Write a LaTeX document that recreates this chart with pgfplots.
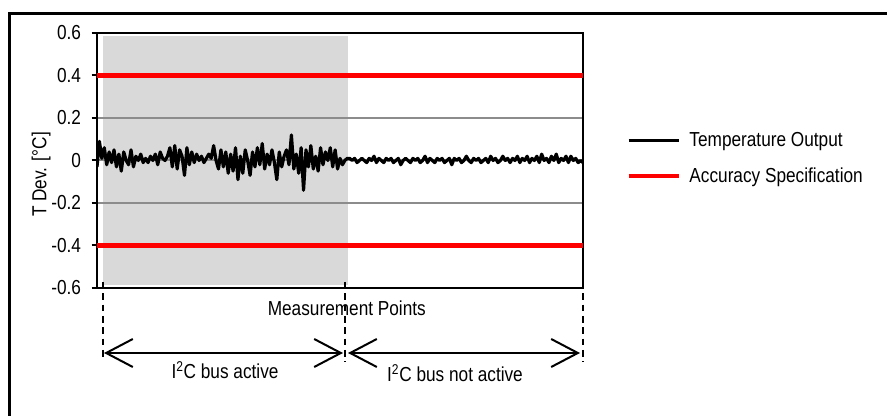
\documentclass[border=0pt]{standalone}
\usepackage{fontspec}
\setmainfont[FakeStretch=0.85]{Liberation Sans}
\usepackage{pgfplots}
\pgfplotsset{compat=1.18}
\usetikzlibrary{arrows.meta}

\definecolor{shade}{HTML}{D9D9D9}
\definecolor{gridgray}{HTML}{8C8C8C}

\begin{document}
\begin{tikzpicture}[font=\fontsize{15.2}{17}\selectfont]
% 1 px of the reference = 0.75pt
\begin{axis}[
  at={(72.75pt,96pt)}, anchor=south west,
  scale only axis, width=364.5pt, height=191.25pt,
  set layers=standard,
  xmin=0, xmax=200, ymin=-0.6, ymax=0.6,
  xtick=\empty,
  ytick={-0.6,-0.4,-0.2,0,0.2,0.4,0.6},
  yticklabels={-0.6,-0.4,-0.2,0,0.2,0.4,0.6},
  yticklabel style={xshift=-4.5pt},
  ytick pos=left, tick align=outside, major tick length=4pt,
  tick style={black, line width=1.5pt},
  axis line style={line width=1.5pt},
  ymajorgrids, grid style={color=gridgray, line width=1.5pt},
  xlabel={Measurement Points},
  ylabel={T Dev. [°C]},
  xlabel style={at={(axis description cs:0.514,-0.078)}, anchor=center},
  ylabel style={at={(axis description cs:-0.115,0.445)}, anchor=center},
  legend image code/.code={\draw[#1] (0pt,0pt) -- (38pt,0pt);},
  legend style={at={(axis description cs:1.089,0.508)}, anchor=west,
    draw=none, fill=none, inner sep=0pt, row sep=14.6pt, column sep=6pt,
    nodes={inner sep=0pt, anchor=west}},
  legend cell align=left,
]
% shaded region: I2C bus active
\addplot[fill=shade, draw=none, on layer=axis background, forget plot]
  coordinates {(2.47,-0.586) (103.3,-0.586) (103.3,0.586) (2.47,0.586)};

\addplot[black, line width=2.4pt, line join=round] coordinates {
(0,-0.03) (1,0.09) (2,0.01) (3,0.06) (4,-0.02) (5,0.04) (6,-0.01) (7,0.05) (8,-0.03) (9,0.03)
(10,-0.05) (11,0.04) (12,0.00) (13,-0.02) (14,0.05) (15,-0.03) (16,0.02) (17,0.00) (18,0.03) (19,-0.01)
(20,0.01) (21,-0.01) (22,0.02) (23,0.00) (24,0.03) (25,-0.02) (26,0.04) (27,0.01) (28,0.00) (29,0.02)
(30,0.06) (31,-0.03) (32,0.07) (33,-0.04) (34,0.05) (35,0.02) (36,-0.07) (37,0.06) (38,-0.02) (39,0.04)
(40,-0.01) (41,0.03) (42,0.00) (43,0.02) (44,-0.01) (45,0.01) (46,0.03) (47,0.01) (48,0.07) (49,0.00)
(50,-0.04) (51,0.05) (52,-0.03) (53,0.04) (54,-0.06) (55,0.03) (56,-0.05) (57,0.06) (58,-0.09) (59,0.02)
(60,-0.06) (61,0.05) (62,0.00) (63,-0.07) (64,0.04) (65,-0.03) (66,0.06) (67,-0.02) (68,0.08) (69,-0.04)
(70,0.03) (71,-0.02) (72,0.05) (73,-0.01) (74,-0.09) (75,0.04) (76,-0.03) (77,0.02) (78,0.05) (79,-0.02)
(80,0.12) (81,-0.04) (82,0.03) (83,-0.06) (84,0.06) (85,-0.14) (86,0.05) (87,-0.03) (88,0.07) (89,-0.04)
(90,0.02) (91,-0.05) (92,0.06) (93,-0.02) (94,0.04) (95,0.00) (96,0.06) (97,-0.03) (98,0.05) (99,-0.04)
(100,0.01) (101,-0.02) (102,0.00) (103,0.01)
(104,0.01) (105,0.00) (106,0.01) (107,-0.01) (108,0.00) (109,0.01) (110,0.00) (111,-0.01) (112,0.01) (113,0.00)
(114,0.02) (115,-0.01) (116,0.01) (117,0.00) (118,-0.01) (119,0.01) (120,0.00) (121,0.01) (122,-0.01) (123,0.00)
(124,0.01) (125,-0.02) (126,0.00) (127,0.01) (128,0.00) (129,-0.01) (130,0.01) (131,0.00) (132,0.01) (133,-0.01)
(134,0.00) (135,0.02) (136,-0.01) (137,0.01) (138,0.00) (139,-0.01) (140,0.01) (141,0.00) (142,0.01) (143,-0.01)
(144,0.00) (145,0.01) (146,-0.02) (147,0.01) (148,0.00) (149,0.01) (150,-0.01) (151,0.00) (152,0.02) (153,0.00)
(154,-0.01) (155,0.01) (156,0.00) (157,0.01) (158,-0.01) (159,0.00) (160,0.01) (161,-0.01) (162,0.02) (163,0.00)
(164,0.01) (165,-0.01) (166,0.00) (167,0.02) (168,0.00) (169,0.01) (170,-0.01) (171,0.01) (172,0.00) (173,0.02)
(174,-0.01) (175,0.01) (176,0.00) (177,0.02) (178,-0.01) (179,0.01) (180,0.00) (181,0.02) (182,-0.01) (183,0.03)
(184,0.00) (185,0.01) (186,-0.01) (187,0.02) (188,0.00) (189,0.03) (190,-0.01) (191,0.01) (192,0.00) (193,0.02)
(194,-0.01) (195,0.02) (196,0.00) (197,0.01) (198,-0.01) (199,0.00) (200,-0.01)
};
\addlegendentry{Temperature Output}

\addplot[red, line width=3.2pt] coordinates {(0,0.4) (200,0.4)};
\addlegendentry{Accuracy Specification}
\addplot[red, line width=3.2pt, forget plot] coordinates {(0,-0.4) (200,-0.4)};
\end{axis}

\begin{scope}[x=0.75pt,y=0.75pt]
% outer frame (cut off at right and bottom)
\draw[line width=2.2pt] (9.5,0) -- (9.5,402.5) -- (887,402.5);
% region markers below the axis
\draw[dash pattern=on 5pt off 3.5pt, line width=1.1pt] (103,134) -- (103,56);
\draw[dash pattern=on 5pt off 3.5pt, line width=1.1pt] (345,134) -- (345,54);
\draw[dash pattern=on 5pt off 3.5pt, line width=1.1pt] (583,134) -- (583,54);
\draw[line width=1.5pt, {Straight Barb[length=20pt,width=21pt]}-{Straight Barb[length=20pt,width=21pt]}]
  (104,63) -- (343,63);
\draw[line width=1.5pt, {Straight Barb[length=20pt,width=21pt]}-{Straight Barb[length=20pt,width=21pt]}]
  (348,63) -- (580,63);
\node at (225,46) {I\textsuperscript{2}C bus active};
\node at (455,43) {I\textsuperscript{2}C bus not active};
\pgfresetboundingbox
\useasboundingbox (0,0) rectangle (887,416);
\end{scope}
\end{tikzpicture}
\end{document}
